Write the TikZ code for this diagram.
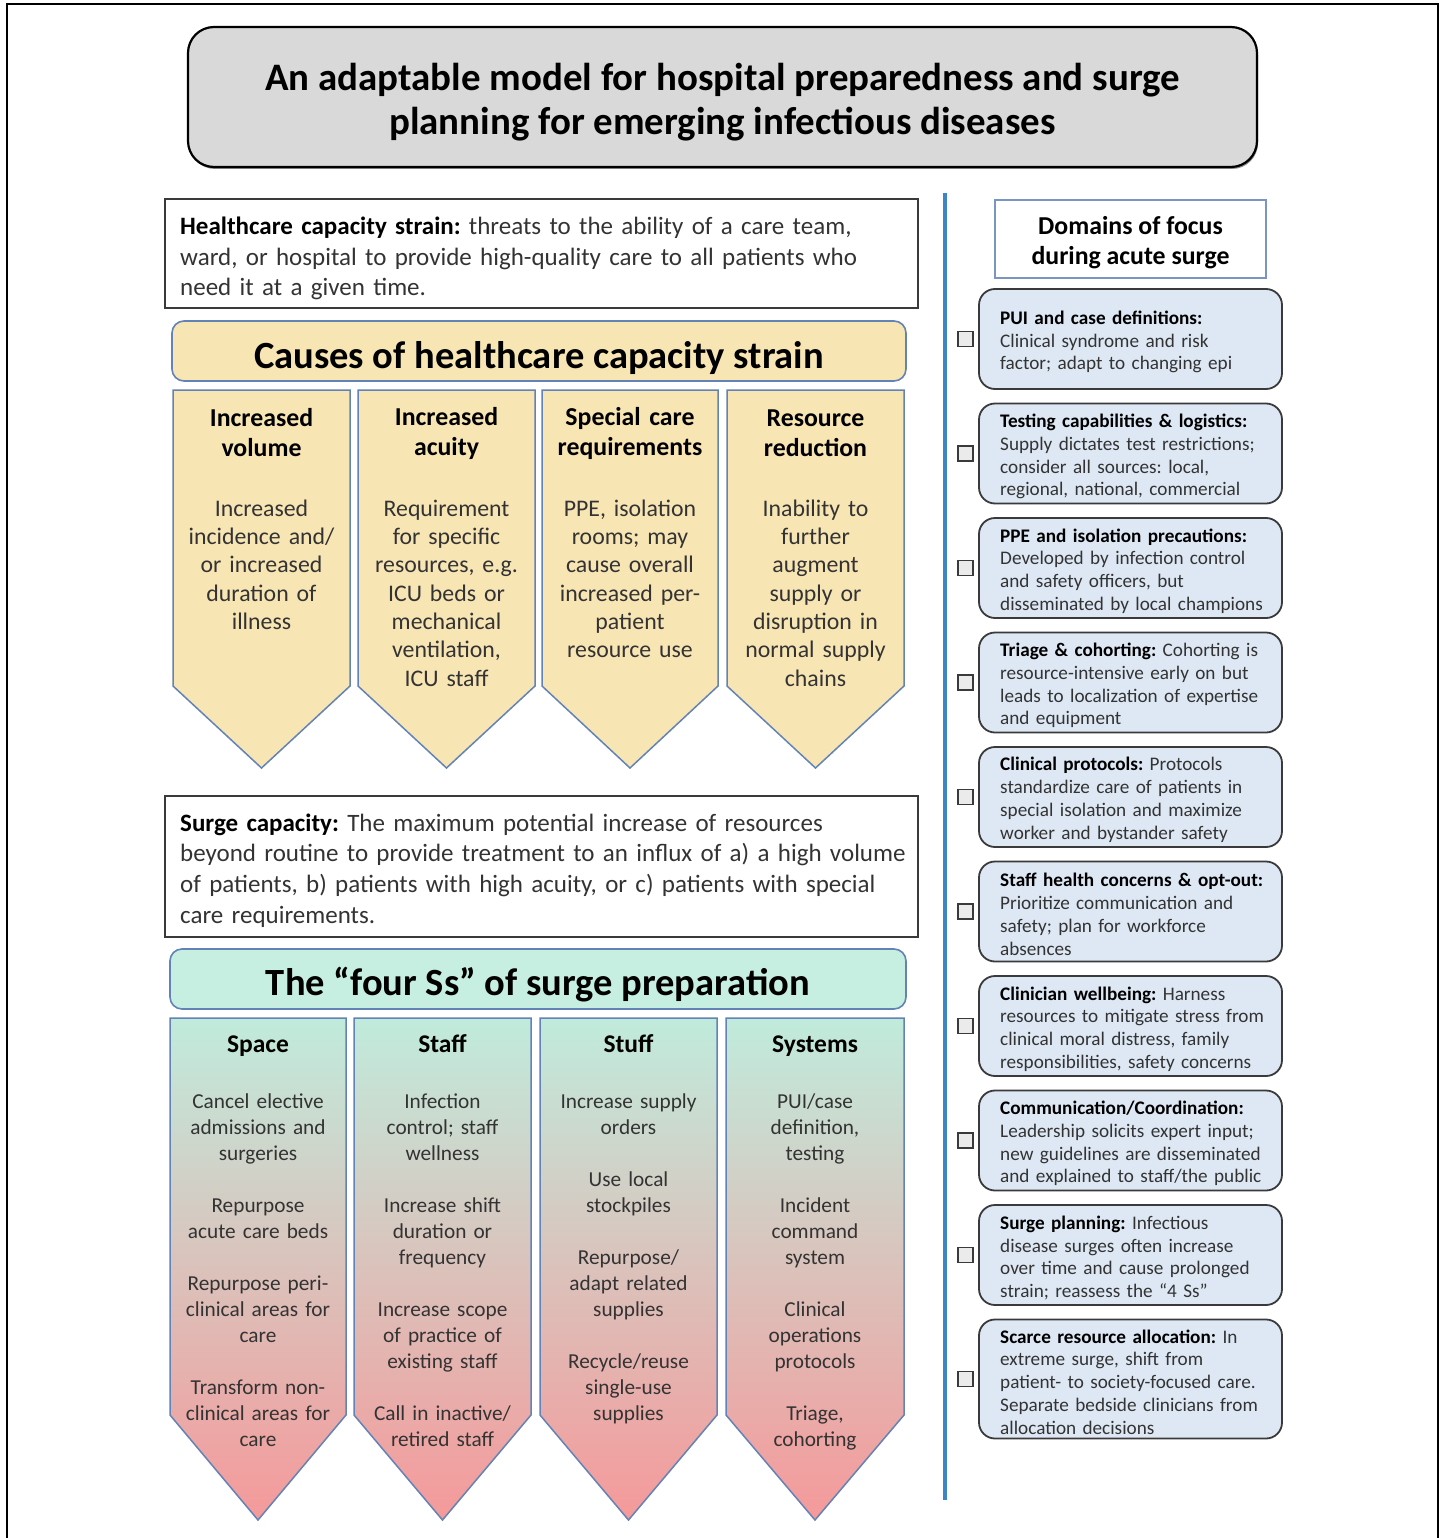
\documentclass[tikz,border=0pt]{standalone}
\usepackage{fontspec}
\setmainfont{Carlito}
\frenchspacing
\definecolor{titlegray}{HTML}{D9D9D9}
\definecolor{causefill}{HTML}{F8E5B4}
\definecolor{chevborder}{HTML}{6382B5}
\definecolor{mintfill}{HTML}{C6EFE1}
\definecolor{minttop}{HTML}{C0EBDC}
\definecolor{salmonbot}{HTML}{F5999A}
\definecolor{lightblue}{HTML}{DDE8F4}
\definecolor{linkblue}{HTML}{3C85C6}
\definecolor{bodygray}{HTML}{333333}
\definecolor{boxborder}{HTML}{3A3A3A}
\newcommand\mkchev[6]{%
  \path[#1] (#2,#4) -- (#3,#4) -- (#3,#5) -- ({(#2+#3)/2},#6) -- (#2,#5) -- cycle;}
\newcommand\rbox[4]{%
  \node[rb, minimum height=#3] (#1) at (1130.5,{#2+#3/2}) {};
  \node[rbtext, anchor=west] (#1t) at (1000,{#2+#3/2+3}) {#4};
  \node[chk] (#1c) at (965.5,{#2+#3/2}) {};}
\begin{document}
\begin{tikzpicture}[x=1pt,y=-1pt,
  titlebox/.style={draw=black, line width=2.2, fill=titlegray, rounded corners=26, inner sep=0},
  defbox/.style={draw=boxborder, line width=1.6, fill=white, inner sep=0},
  deftext/.style={font=\frenchspacing\fontsize{25}{30.6}\selectfont, text=bodygray, text width=748, align=left, inner sep=0},
  hdrbox/.style={draw=chevborder, line width=1.6, rounded corners=12, inner sep=0},
  hdrtext/.style={font=\fontsize{38.5}{44}\selectfont\bfseries, inner sep=0},
  chead/.style={font=\fontsize{25.8}{30}\selectfont\bfseries, text width=172, align=center, inner sep=0},
  cbody/.style={font=\fontsize{23.8}{28.35}\selectfont, text=bodygray, text width=172, align=center, inner sep=0},
  shead/.style={font=\fontsize{25.5}{30}\selectfont\bfseries, inner sep=0},
  sbody/.style={font=\fontsize{21.3}{26}\selectfont, text=bodygray, text width=172, align=center, inner sep=0},
  causechev/.style={draw=chevborder, line width=1.5, fill=causefill},
  sschev/.style={draw=chevborder, line width=1.5, top color=minttop, bottom color=salmonbot},
  rb/.style={draw=boxborder, line width=1.8, fill=lightblue, rounded corners=16, minimum width=303, inner sep=0},
  rbtext/.style={font=\frenchspacing\fontsize{19.2}{22.8}\selectfont, text=bodygray, text width=285, align=left, inner sep=0},
  chk/.style={draw=boxborder, line width=1.8, fill=black!8, minimum size=15, inner sep=0},
  blueline/.style={draw=linkblue, line width=4}
]
\useasboundingbox (0,0) rectangle (1444,1538);
\fill[white] (0,0) rectangle (1444,1538);
% outer frame
\draw[line width=1.5] (7,1545) -- (7,4) -- (1438,4) -- (1438,1545);

% title
\fill[black!45, rounded corners=26] (189,29) rectangle (1258,169);
\node[titlebox, minimum width=1069, minimum height=140] (title) at (722.5,97) {};
\node[font=\fontsize{38.9}{44}\selectfont\bfseries, align=center, inner sep=0] (titletext) at (722.5,102)
  {An adaptable model for hospital preparedness and surge\\planning for emerging infectious diseases};

% blue divider
\coordinate (lineTop) at (945,193);
\coordinate (lineBot) at (945,1500);
\draw[blueline] (lineTop) -- (lineBot);

% healthcare capacity strain definition
\node[defbox, minimum width=753, minimum height=109] (hcs) at (541.5,253.5) {};
\node[deftext, anchor=west] (hcstext) at (180,258.5)
  {\textbf{\color{black}Healthcare capacity strain:} threats to the ability of a care team,\\ward, or hospital to provide high-quality care to all patients who\\need it at a given time.};

% causes header
\node[hdrbox, fill=causefill, minimum width=734, minimum height=60] (causes) at (539,351) {};
\node[hdrtext, anchor=base] (causestext) at (539,368) {Causes of healthcare capacity strain};

% causes chevrons
\mkchev{causechev}{173}{350}{390}{686}{768}
\mkchev{causechev}{358}{535}{390}{686}{768}
\mkchev{causechev}{542}{718}{390}{686}{768}
\mkchev{causechev}{727}{904}{390}{686}{768}
\node[chead] (c1h) at (261.5,433) {Increased\\volume};
\node[chead] (c2h) at (446.5,433) {Increased\\acuity};
\node[chead] (c3h) at (630,433) {Special care\\requirements};
\node[chead] (c4h) at (815.5,433) {Resource\\reduction};
\node[cbody, anchor=north] (c1b) at (261.5,499.5) {Increased\\incidence and/\\or increased\\duration of\\illness};
\node[cbody, anchor=north] (c2b) at (446.5,499.5) {Requirement\\for specific\\resources, e.g.\\ICU beds or\\mechanical\\ventilation,\\ICU staff};
\node[cbody, anchor=north] (c3b) at (630,499.5) {PPE, isolation\\rooms; may\\cause overall\\increased per-\\patient\\resource use};
\node[cbody, anchor=north] (c4b) at (815.5,499.5) {Inability to\\further\\augment\\supply or\\disruption in\\normal supply\\chains};

% surge capacity definition
\node[defbox, minimum width=753, minimum height=141] (sc) at (541.5,866.5) {};
\node[deftext, anchor=west] (sctext) at (180,870.5)
  {\textbf{\color{black}Surge capacity:} The maximum potential increase of resources\\beyond routine to provide treatment to an influx of a) a high volume\\of patients, b) patients with high acuity, or c) patients with special\\care requirements.};

% four Ss header
\node[hdrbox, fill=mintfill, minimum width=736, minimum height=60] (fourss) at (538,979) {};
\node[hdrtext, anchor=base] (foursstext) at (538,995) {The “four Ss” of surge preparation};

% four Ss chevrons
\mkchev{sschev}{170}{346}{1018}{1415}{1520}
\mkchev{sschev}{354}{531}{1018}{1415}{1520}
\mkchev{sschev}{540}{717}{1018}{1415}{1520}
\mkchev{sschev}{726}{904}{1018}{1415}{1520}
\node[shead, anchor=base] (s1h) at (258,1052) {Space};
\node[shead, anchor=base] (s2h) at (442.5,1052) {Staff};
\node[shead, anchor=base] (s3h) at (628.5,1052) {Stuff};
\node[shead, anchor=base] (s4h) at (815,1052) {Systems};
\node[sbody, anchor=north] (s1b) at (258,1093.5) {Cancel elective\\admissions and\\surgeries\\[26pt]Repurpose\\acute care beds\\[26pt]Repurpose peri-\\clinical areas for\\care\\[26pt]Transform non-\\clinical areas for\\care};
\node[sbody, anchor=north] (s2b) at (442.5,1093.5) {Infection\\control; staff\\wellness\\[26pt]Increase shift\\duration or\\frequency\\[26pt]Increase scope\\of practice of\\existing staff\\[26pt]Call in inactive/\\retired staff};
\node[sbody, anchor=north] (s3b) at (628.5,1093.5) {Increase supply\\orders\\[26pt]Use local\\stockpiles\\[26pt]Repurpose/\\adapt related\\supplies\\[26pt]Recycle/reuse\\single-use\\supplies};
\node[sbody, anchor=north] (s4b) at (815,1093.5) {PUI/case\\definition,\\testing\\[26pt]Incident\\command\\system\\[26pt]Clinical\\operations\\protocols\\[26pt]Triage,\\cohorting};

% domains header
\node[draw=chevborder!85, line width=1.6, fill=white, minimum width=271, minimum height=78, inner sep=0] (domains) at (1130.5,239) {};
\node[font=\fontsize{25.8}{30}\selectfont\bfseries, align=center, inner sep=0] (domainstext) at (1130.5,243) {Domains of focus\\during acute surge};

% domain boxes
\rbox{d1}{289}{100}{\textbf{\color{black}PUI and case definitions:}\\Clinical syndrome and risk\\factor; adapt to changing epi}
\rbox{d2}{403.5}{100}{\textbf{\color{black}Testing capabilities \& logistics:}\\Supply dictates test restrictions;\\consider all sources: local,\\regional, national, commercial}
\rbox{d3}{518}{100}{\textbf{\color{black}PPE and isolation precautions:}\\Developed by infection control\\and safety officers, but\\disseminated by local champions}
\rbox{d4}{632.5}{100}{\textbf{\color{black}Triage \& cohorting:} Cohorting is\\resource-intensive early on but\\leads to localization of expertise\\and equipment}
\rbox{d5}{747}{100}{\textbf{\color{black}Clinical protocols:} Protocols\\standardize care of patients in\\special isolation and maximize\\worker and bystander safety}
\rbox{d6}{861.5}{100}{\textbf{\color{black}Staff health concerns \& opt-out:}\\Prioritize communication and\\safety; plan for workforce\\absences}
\rbox{d7}{976}{100}{\textbf{\color{black}Clinician wellbeing:} Harness\\resources to mitigate stress from\\clinical moral distress, family\\responsibilities, safety concerns}
\rbox{d8}{1090.5}{100}{\textbf{\color{black}Communication/Coordination:}\\Leadership solicits expert input;\\new guidelines are disseminated\\and explained to staff/the public}
\rbox{d9}{1205}{100}{\textbf{\color{black}Surge planning:} Infectious\\disease surges often increase\\over time and cause prolonged\\strain; reassess the “4 Ss”}
\rbox{d10}{1319.5}{119}{\textbf{\color{black}Scarce resource allocation:} In\\extreme surge, shift from\\patient- to society-focused care.\\Separate bedside clinicians from\\allocation decisions}
\end{tikzpicture}
\end{document}
